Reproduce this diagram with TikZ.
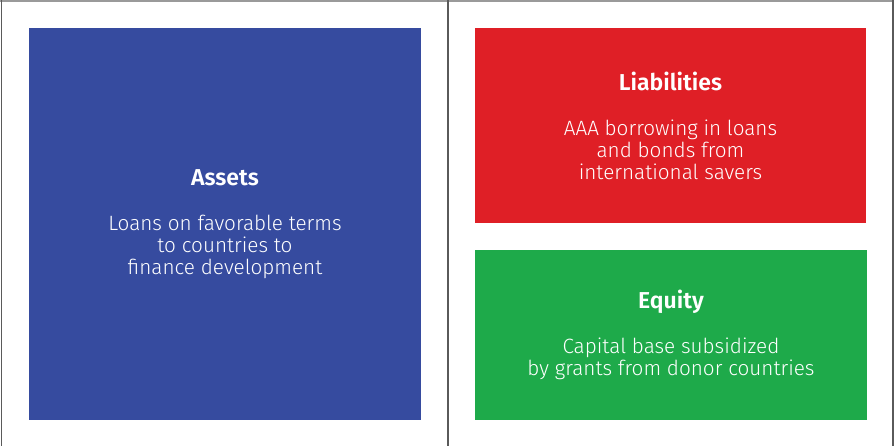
\documentclass[tikz,border=0pt]{standalone}
\usepackage{fontspec}
\setmainfont{Fira Sans Light}[BoldFont={Fira Sans SemiBold}]
\definecolor{assetblue}{HTML}{364B9F}
\definecolor{liabred}{HTML}{DF1F26}
\definecolor{equitygreen}{HTML}{1EAA4A}
\definecolor{rulegray}{HTML}{9A9A9A}
\definecolor{rulegraydark}{HTML}{5A5A5A}
\tikzset{
  acctbox/.style={draw=none, inner sep=0pt, text=white, align=center,
    font=\fontsize{20.7}{22}\selectfont},
}
\newcommand{\boxtitle}[1]{{\fontsize{23}{22}\selectfont\bfseries #1}\\[23pt]}
\begin{document}
\begin{tikzpicture}[x=1pt,y=-1pt]
\useasboundingbox (0,0) rectangle (894,446);
% T-account rules
\coordinate (tl) at (0,1);
\coordinate (tr) at (894,1);
\coordinate (lt) at (1.5,0);
\coordinate (lb) at (1.5,446);
\coordinate (mt) at (448,0);
\coordinate (mb) at (448,446);
\coordinate (rt) at (893,0);
\coordinate (rb) at (893,446);
\draw[rulegray, line width=2pt] (tl) -- (tr);
\draw[rulegraydark, line width=1.5pt] (lt) -- (lb);
\draw[rulegraydark, line width=2pt] (mt) -- (mb);
\draw[rulegraydark, line width=1.5pt] (rt) -- (rb);
% boxes
\node[acctbox, fill=assetblue, minimum width=392pt, minimum height=392pt] (assets) at (225,224)
  {\boxtitle{Assets}Loans on favorable terms\\to countries to\\finance development};
\node[acctbox, fill=liabred, minimum width=391pt, minimum height=195pt] (liab) at (670.5,125.5)
  {\boxtitle{Liabilities}AAA borrowing in loans\\and bonds from\\international savers};
\node[acctbox, fill=equitygreen, minimum width=392pt, minimum height=170pt] (equity) at (671,335)
  {\boxtitle{Equity}Capital base subsidized\\by grants from donor countries};
\end{tikzpicture}
\end{document}
